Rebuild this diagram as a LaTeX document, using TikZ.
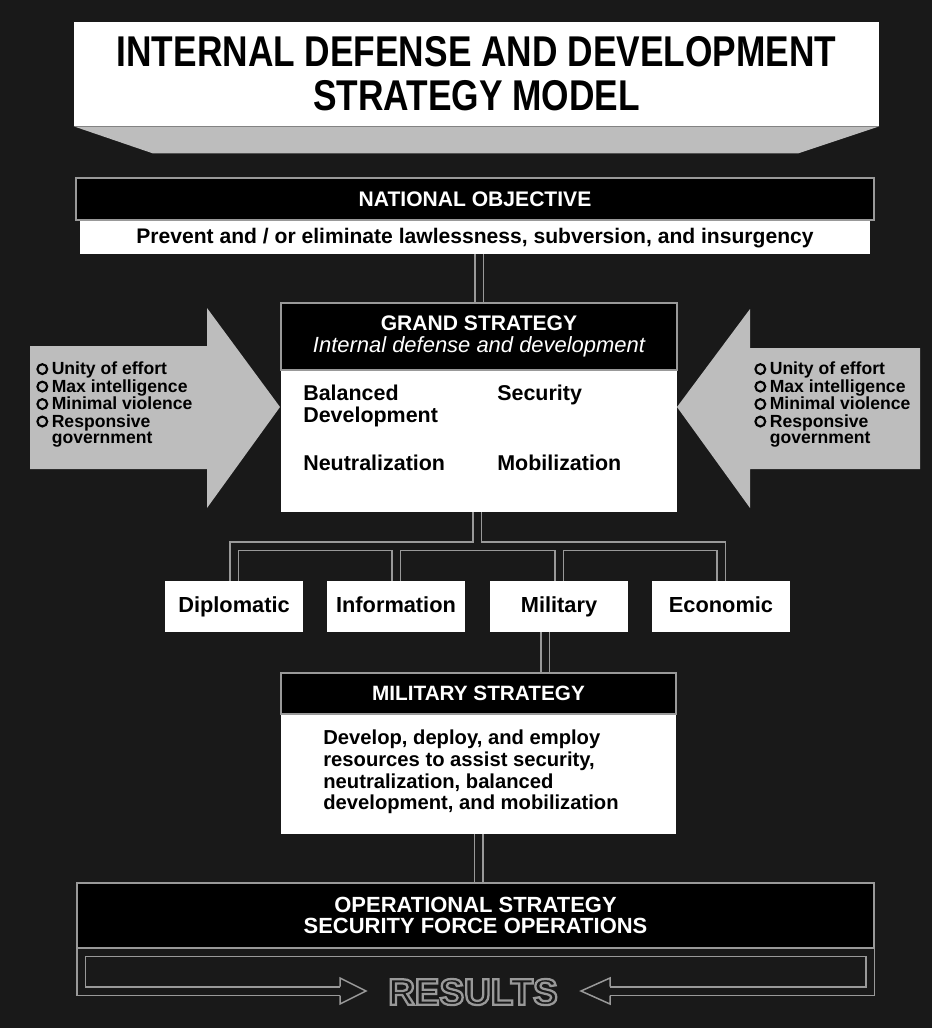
\documentclass[tikz,border=0pt]{standalone}
\usepackage{graphicx}
\usepackage{fontspec}
\setmainfont{Liberation Sans}
\usetikzlibrary{positioning}

\definecolor{bgdark}{gray}{0.1}
\definecolor{stipple}{gray}{0.74}
\definecolor{pipegray}{gray}{0.6}

\newcommand\ringmark{\tikz[baseline=-0.6ex]\draw[line width=1.2pt] (0,0) circle (2.8pt);}
\newcommand\hollow[1]{\special{pdf:literal direct 1 Tr 1.3 w 0.6 G}#1\special{pdf:literal direct 0 Tr}}

\tikzset{
	headbox/.style={fill=black, draw=pipegray, line width=0.9pt, text=white, align=center, inner sep=0pt},
	bodybox/.style={fill=white, inner sep=0pt, align=left},
	branchbox/.style={fill=white, minimum width=2.76cm, minimum height=1.02cm, inner sep=0pt, text height=9pt, text depth=2.6pt, font=\bfseries\fontsize{12.4}{14}\selectfont},
	item/.style={anchor=west, align=left, inner sep=0pt, font=\bfseries\fontsize{12.2}{12.5}\selectfont},
	listtext/.style={anchor=west, inner sep=0pt, font=\bfseries\fontsize{10}{9}\selectfont},
	resfont/.style={inner sep=0pt, font=\bfseries\fontsize{21}{24}\selectfont},
	pipeout/.style={draw=pipegray, line width=0.2cm},
	pipein/.style={draw=bgdark, line width=0.14cm},
}

\begin{document}
\begin{tikzpicture}[x=0.02cm, y=-0.02cm]
	\fill[bgdark] (0,0) rectangle (932,1028);

	\node[fill=white, minimum width=16.1cm, minimum height=2.08cm, inner sep=0pt, align=center, font=\bfseries\fontsize{24.5}{25}\selectfont] (title) at (476.5,74) {\scalebox{0.82}[1]{INTERNAL DEFENSE AND DEVELOPMENT}\\\scalebox{0.82}[1]{STRATEGY MODEL}};
	\fill[stipple] (title.south west) -- (title.south east) -- ++(-81,27) -- ([xshift=1.58cm,yshift=-0.54cm]title.south west) -- cycle;

	\node[headbox, minimum width=15.96cm, minimum height=0.84cm, font=\bfseries\fontsize{12}{14}\selectfont] (natobj) at (475,199) {NATIONAL OBJECTIVE};
	\node[bodybox, minimum width=15.8cm, minimum height=0.66cm, below=0pt of natobj, font=\bfseries\fontsize{12}{14}\selectfont] (natobjtxt) {Prevent and / or eliminate lawlessness, subversion, and insurgency};

	\fill[stipple] (30,346) -- (207,346) -- (207,308) -- (280,407) -- (207,508) -- (207,469) -- (30,469) -- cycle;
	\fill[stipple] (920,348) -- (750,348) -- (750,309) -- (677,407) -- (750,508) -- (750,469) -- (920,469) -- cycle;
	\node[listtext] (leftlist) at (36,405) {\begin{tabular}{@{}c@{\hspace{2pt}}l@{}}
		\ringmark & Unity of effort\\ \ringmark & Max intelligence\\ \ringmark & Minimal violence\\ \ringmark & Responsive\\ & government\end{tabular}};
	\node[listtext] (rightlist) at (754,405) {\begin{tabular}{@{}c@{\hspace{2pt}}l@{}}
		\ringmark & Unity of effort\\ \ringmark & Max intelligence\\ \ringmark & Minimal violence\\ \ringmark & Responsive\\ & government\end{tabular}};

	\node[headbox, minimum width=7.92cm, minimum height=1.34cm, font=\bfseries\fontsize{12}{12.5}\selectfont] (grand) at (479,336.5) {GRAND STRATEGY\\{\mdseries\itshape\fontsize{12.5}{12.5}\selectfont Internal defense and development}};
	\node[bodybox, minimum width=7.92cm, minimum height=2.82cm, below=0pt of grand] (grandbody) {};
	\node[item] (balanced) at (303,406) {Balanced\\Development};
	\node[item] (security) at (497,395) {Security};
	\node[item] (neutral) at (303,463) {Neutralization};
	\node[item] (mobil) at (497,463) {Mobilization};

	\node[branchbox] (diplomatic) at (234,606.5) {Diplomatic};
	\node[branchbox] (information) at (396,606.5) {Information};
	\node[branchbox] (military) at (559,606.5) {Military};
	\node[branchbox] (economic) at (721,606.5) {Economic};

	\node[headbox, minimum width=7.9cm, minimum height=0.82cm, font=\bfseries\fontsize{11.8}{14}\selectfont] (milstrat) at (478.5,693.5) {MILITARY STRATEGY};
	\node[bodybox, minimum width=7.9cm, minimum height=2.38cm, below=0pt of milstrat] (milbody) {};
	\node[item, font=\bfseries\fontsize{11.5}{12.3}\selectfont] (miltext) at (323,772) {Develop, deploy, and employ\\resources to assist security,\\neutralization, balanced\\development, and mobilization};

	\coordinate (resL) at (340,991);
	\coordinate (resR) at (610,991);
	\coordinate (loopL) at (81,952);
	\coordinate (loopR) at (870,952);
	\foreach \pass in {pipeout,pipein}
		\draw[\pass] (resL) -| (loopL) -- (loopR) |- (resR);
	\draw[pipegray, line width=0.85pt] (resL) ++(0,-4.5) -- ++(0,-8.5) -- ++(26,13) -- ++(-26,13) -- ++(0,-8.5);
	\draw[pipegray, line width=0.85pt] (resR) ++(0,-4.5) -- ++(0,-8.5) -- ++(-29,13) -- ++(29,13) -- ++(0,-8.5);

	\node[headbox, minimum width=15.94cm, minimum height=1.3cm, font=\bfseries\fontsize{12.5}{12}\selectfont] (opstrat) at (475.5,915.5) {OPERATIONAL STRATEGY\\SECURITY FORCE OPERATIONS};

	\node[resfont, text=bgdark] (results) at (473,992) {\hollow{RESULTS}};

	\coordinate (split) at (477,546);
	\coordinate (milfeed) at ([xshift=-0.28cm]military.south);
	\foreach \pass in {pipeout,pipein} {
		\draw[\pass] (natobjtxt.south -| grand.north) -- (grand.north);
		\draw[\pass] (grandbody.south -| split) -- (split) (diplomatic.north) |- (split) -| (economic.north)
			(information.north) -- (information.north |- split) (military.north) -- (military.north |- split);
		\draw[\pass] (milfeed) -- (milfeed |- milstrat.north);
		\draw[\pass] (milbody.south) -- (milbody.south |- opstrat.north);
	}
\end{tikzpicture}
\end{document}
